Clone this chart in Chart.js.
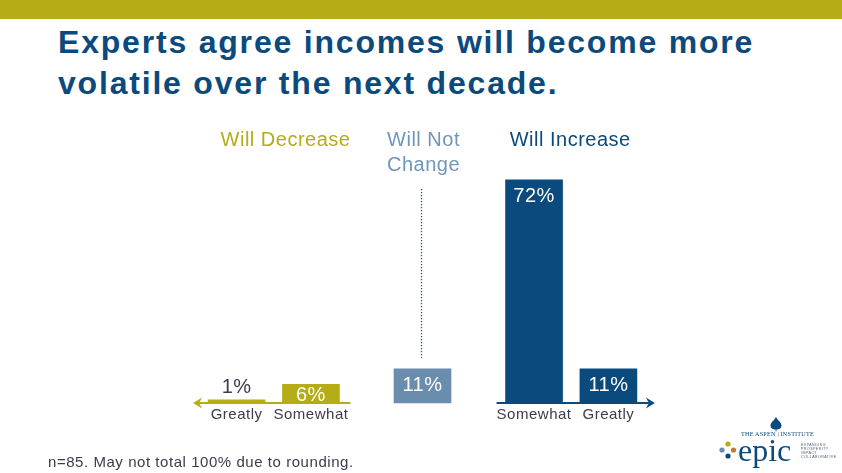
<!DOCTYPE html>
<html>
<head>
<meta charset="utf-8">
<script src="https://cdn.jsdelivr.net/npm/chart.js@4/dist/chart.umd.min.js"></script>
<style>
  html, body { margin: 0; padding: 0; background: #ffffff; }
  body { width: 842px; height: 473px; position: relative; overflow: hidden; font-family: "Liberation Sans", Arial, Helvetica, sans-serif; }
  #topbar { position: absolute; left: 0; top: 0; width: 842px; height: 19px; background: #B5AC16; }
  #title { position: absolute; left: 58px; top: 22px; font-size: 32px; line-height: 41px; font-weight: bold; color: #0B4A7C; letter-spacing: 1.8px; white-space: nowrap; }
  #chartWrap { position: absolute; left: 0; top: 0; width: 842px; height: 473px; }
  #note { position: absolute; left: 48px; top: 453px; font-size: 15px; line-height: 17px; color: #3C3C4C; letter-spacing: 0.55px; white-space: nowrap; }
  #logo { position: absolute; left: 712px; top: 410px; width: 130px; height: 63px; }
  #logo .aspen { position: absolute; left: 29px; top: 20px; font-family: "Liberation Serif", "DejaVu Serif", serif; font-size: 6.2px; color: #0B4A7C; letter-spacing: 0.2px; white-space: nowrap; }
  #logo .epic { position: absolute; left: 26px; top: 22px; font-family: "Liberation Serif", "DejaVu Serif", serif; font-size: 32px; line-height: 36px; color: #0B4A7C; }
  #logo .small { position: absolute; left: 89px; top: 33px; font-size: 3.6px; line-height: 4.1px; color: #4A5A78; letter-spacing: 0.45px; white-space: nowrap; }
</style>
</head>
<body>
<div id="topbar"></div>
<div id="title">Experts agree incomes will become more<br>volatile over the next decade.</div>
<div id="chartWrap"><canvas id="c"></canvas></div>
<div id="note">n=85. May not total 100% due to rounding.</div>
<div id="logo">
  <svg width="130" height="63" style="position:absolute;left:0;top:0">
    <path d="M64 7 C65.5 10,69.5 12.5,69.5 15.5 C69.5 18.5,67 19.5,64 19.5 C61 19.5,58.5 18.5,58.5 15.5 C58.5 12.5,62.5 10,64 7 Z" fill="#0B4A7C"/>
    <line x1="64" y1="19" x2="64" y2="21.5" stroke="#0B4A7C" stroke-width="0.8"/>
    <circle cx="16" cy="34" r="2.6" fill="#B5AC16"/>
    <circle cx="10" cy="40" r="2.6" fill="#6A8DAE"/>
    <circle cx="21.5" cy="40" r="2.6" fill="#C47A2C"/>
    <circle cx="16" cy="46" r="2.6" fill="#0B4A7C"/>
  </svg>
  <div class="aspen">THE ASPEN | INSTITUTE</div>
  <div class="epic">epic</div>
  <div class="small">EXPANDING<br>PROSPERITY<br>IMPACT<br>COLLABORATIVE</div>
</div>
<script>
// ---- data ----
const categories = ['Greatly decrease', 'Somewhat decrease', 'Will not change', 'Somewhat increase', 'Greatly increase'];
const tickLabels = ['Greatly', 'Somewhat', '', 'Somewhat', 'Greatly'];
const values = [1, 6, 11, 72, 11];
const groupHeaders = ['Will Decrease', 'Will Not|Change', 'Will Increase'];
const valueLabels = ['1%', '6%', '11%', '72%', '11%'];

// ---- layout / style ----
const SLOTS = [0, 2, 5, 8, 10];
const NSLOT = 11;
const OLIVE = '#B5AC16', STEEL = '#6A8DAE', NAVY = '#0B4A7C', GRAY = '#3C3C4C';
const barColors = [OLIVE, OLIVE, STEEL, NAVY, NAVY];
const FONT = '"Liberation Sans", Arial, Helvetica, sans-serif';

const slotLabels = new Array(NSLOT).fill('');
const slotData = new Array(NSLOT).fill(null);
const slotColors = new Array(NSLOT).fill('rgba(0,0,0,0)');
SLOTS.forEach((s, i) => { slotLabels[s] = tickLabels[i]; slotData[s] = values[i]; slotColors[s] = barColors[i]; });

function arrowLine(ctx, x0, x1, y, color, dir) {
  ctx.save();
  ctx.strokeStyle = color; ctx.fillStyle = color; ctx.lineWidth = 2;
  ctx.beginPath();
  if (dir < 0) { ctx.moveTo(x0 + 6, y); ctx.lineTo(x1, y); }
  else { ctx.moveTo(x0, y); ctx.lineTo(x1 - 6, y); }
  ctx.stroke();
  const tip = dir < 0 ? x0 : x1;
  ctx.beginPath();
  ctx.moveTo(tip, y);
  ctx.lineTo(tip - dir * 9, y - 5.5);
  ctx.lineTo(tip - dir * 6, y);
  ctx.lineTo(tip - dir * 9, y + 5.5);
  ctx.closePath();
  ctx.fill();
  ctx.restore();
}

const decor = {
  id: 'decor',
  beforeDraw(chart) { chart.ctx.letterSpacing = '0.5px'; },
  beforeDatasetsDraw(chart) {
    const ctx = chart.ctx;
    const bars = chart.getDatasetMeta(0).data;
    const b = SLOTS.map(s => bars[s]);
    const base = chart.chartArea.bottom;
    arrowLine(ctx, b[0].x - b[0].width / 2 - 15, b[1].x + b[1].width / 2 + 11, base, OLIVE, -1);
    arrowLine(ctx, b[3].x - b[3].width / 2 - 9, b[4].x + b[4].width / 2 + 18, base, NAVY, 1);
    ctx.save();
    ctx.strokeStyle = '#1F5486'; ctx.lineWidth = 1.3; ctx.setLineDash([1.3, 1.7]);
    ctx.beginPath();
    ctx.moveTo(Math.round(b[2].x) - 1.5, chart.chartArea.top + 34);
    ctx.lineTo(Math.round(b[2].x) - 1.5, b[2].y - 11);
    ctx.stroke();
    ctx.restore();
  },
  afterDatasetsDraw(chart) {
    const ctx = chart.ctx;
    const bars = chart.getDatasetMeta(0).data;
    const b = SLOTS.map(s => bars[s]);
    ctx.save();
    ctx.letterSpacing = '0.5px';
    ctx.textBaseline = 'middle';
    ctx.textAlign = 'center';
    ctx.font = '20px ' + FONT;
    b.forEach((bar, i) => {
      const h = bar.base - bar.y;
      if (h < 10) {
        ctx.fillStyle = GRAY;
        ctx.fillText(valueLabels[i], bar.x, bar.y - 12);
      } else {
        ctx.fillStyle = '#FFFFFF';
        ctx.fillText(valueLabels[i], bar.x, Math.min(bar.y + 16.5, (bar.y + bar.base) / 2 + 2));
      }
    });
    const hy = 140;
    ctx.font = '20px ' + FONT;
    ctx.fillStyle = OLIVE;
    ctx.textAlign = 'right';
    ctx.fillText(groupHeaders[0], b[1].x + b[1].width / 2 + 11, hy);
    ctx.textAlign = 'center';
    ctx.fillStyle = '#7096BA';
    const nc = groupHeaders[1].split('|');
    ctx.fillText(nc[0], b[2].x + 1, hy);
    ctx.fillText(nc[1], b[2].x + 1, hy + 25);
    ctx.fillStyle = NAVY;
    ctx.fillText(groupHeaders[2], (b[3].x + b[4].x) / 2 - 1, hy);
    ctx.restore();
  }
};

new Chart(document.getElementById('c'), {
  type: 'bar',
  data: {
    labels: slotLabels,
    datasets: [{
      data: slotData,
      backgroundColor: slotColors,
      barThickness: 57,
      borderWidth: 0,
      clip: false
    }]
  },
  options: {
    responsive: true,
    maintainAspectRatio: false,
    animation: false,
    events: [],
    layout: { padding: { left: 218, right: 215, top: 155, bottom: 46 } },
    plugins: { legend: { display: false }, tooltip: { enabled: false } },
    scales: {
      x: {
        grid: { display: false, drawTicks: false },
        border: { display: false },
        ticks: { color: GRAY, font: { family: FONT, size: 15 }, padding: 3, autoSkip: false, maxRotation: 0 }
      },
      y: { display: false, min: 0, max: 80 }
    }
  },
  plugins: [decor]
});
</script>
</body>
</html>
